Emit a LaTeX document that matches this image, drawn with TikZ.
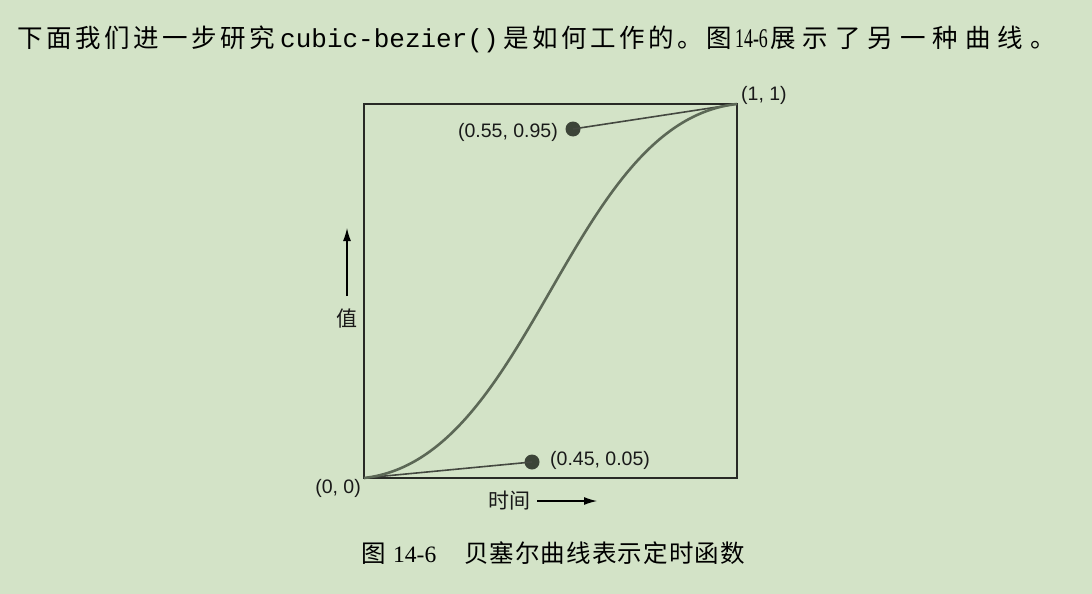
\documentclass[tikz,border=0pt]{standalone}
\usepackage{fontspec}
\setmainfont{Liberation Serif}
\setsansfont{Liberation Sans}
\setmonofont{Liberation Mono}
\newfontfamily\cjk{Noto Sans CJK SC}
\usetikzlibrary{arrows.meta}
\makeatletter
\newcommand\spreadcjk[2]{\@tfor\spr@ch:=#2\do{\makebox[#1][l]{\spr@ch}}}
\makeatother
\definecolor{bg}{RGB}{211,227,199}
\definecolor{boxc}{RGB}{40,42,38}
\definecolor{curvec}{RGB}{92,104,86}
\definecolor{dotc}{RGB}{60,68,56}
\definecolor{linec}{RGB}{68,72,64}
\tikzset{
  lbl/.style={font=\sffamily\fontsize{19.5}{19.5}\selectfont, inner sep=0pt, text=black!90},
  cjklbl/.style={font=\cjk\fontsize{21}{21}\selectfont, inner sep=0pt, text=black!90},
  toptxt/.style={anchor=base west, inner sep=0pt, font=\cjk\fontsize{25.5}{25.5}\selectfont},
  captxt/.style={anchor=base west, inner sep=0pt, font=\cjk\fontsize{24.5}{24.5}\selectfont},
  ctrldot/.style={circle, fill=dotc, minimum size=15pt, inner sep=0pt},
  ctrlline/.style={draw=linec, line width=1.6pt},
  axisarrow/.style={draw=black, line width=1.2pt, -{Latex[length=13pt,width=8pt]}},
}
\begin{document}
\begin{tikzpicture}[x=1pt,y=-1pt]
\fill[bg] (0,0) rectangle (1092,594);
\useasboundingbox (0,0) rectangle (1092,594);
% top text
\node[toptxt] (t1) at (17,48) {\spreadcjk{29pt}{下面我们进一步研究}};
\node[toptxt, font=\ttfamily\fontsize{26}{26}\selectfont] (t2) at (280,48) {cubic-bezier()};
\node[toptxt] (t3) at (503,48) {\spreadcjk{29pt}{是如何工作的。图}};
\node[toptxt, font=\rmfamily\fontsize{27}{27}\selectfont] (t4) at (735,48) {\scalebox{0.66}[1]{14-6}};
\node[toptxt] (t5) at (770,48) {\spreadcjk{32.5pt}{展示了另一种曲线。}};
% box
\coordinate (p0) at (364,478);
\coordinate (p1) at (737,104);
\draw[boxc, line width=1.8pt] (364,104) rectangle (737,478);
% control points
\node[ctrldot] (c1) at (532,462) {};
\node[ctrldot] (c2) at (573,129) {};
\draw[ctrlline] (p0) -- (c1.center);
\draw[ctrlline] (p1) -- (c2.center);
% curve
\draw[curvec, line width=2.6pt] (p0) .. controls (532,459) and (569,122) .. (p1);
% labels
\node[lbl, anchor=west] (l11) at (741,95) {(1, 1)};
\node[lbl, anchor=east] (l55) at (558,132) {(0.55, 0.95)};
\node[lbl, anchor=west] (l45) at (550,460) {(0.45, 0.05)};
\node[lbl, anchor=east] (l00) at (361,488) {(0, 0)};
% axes labels
\node[cjklbl, anchor=west] (time) at (488,501) {时间};
\coordinate (ta) at (537,501);
\coordinate (tb) at (597,501);
\draw[axisarrow] (ta) -- (tb);
\node[cjklbl] (val) at (347,319) {值};
\coordinate (va) at (347,296);
\coordinate (vb) at (347,228);
\draw[axisarrow] (va) -- (vb);
% caption
\node[captxt] (cap1) at (361,562) {图};
\node[captxt, font=\rmfamily\fontsize{23.5}{23.5}\selectfont] (cap2) at (393,562) {14-6};
\node[captxt] (cap3) at (464,562) {\spreadcjk{25.6pt}{贝塞尔曲线表示定时函数}};
\end{tikzpicture}
\end{document}
